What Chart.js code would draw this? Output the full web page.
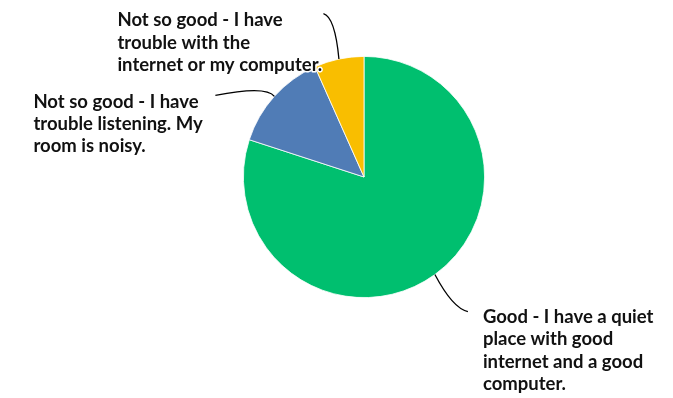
<!DOCTYPE html>
<html>
<head>
<meta charset="utf-8">
<script src="https://cdn.jsdelivr.net/npm/chart.js@4/dist/chart.umd.min.js"></script>
<style>
html,body{margin:0;padding:0;background:#fff;}
canvas{display:block;}
</style>
</head>
<body>
<canvas id="c" width="673" height="398"></canvas>
<script>
const categories = [
  "Good - I have a quiet place with good internet and a good computer.",
  "Not so good - I have trouble listening. My room is noisy.",
  "Not so good - I have trouble with the internet or my computer."
];
const labelLines = [
  ["Good - I have a quiet", "place with good", "internet and a good", "computer."],
  ["Not so good - I have", "trouble listening. My", "room is noisy."],
  ["Not so good - I have", "trouble with the", "internet or my computer."]
];
const responses = [12, 2, 1];
const colors = ["#00BF6F", "#507CB6", "#F9BE00"];

// layout (style only), offsets relative to the arc's outer-edge midpoint:
// leader end, leader control point, first text baseline start
const leaderLayout = [
  {end:[33, 37], ctrl:[18, 34], text:[48, 48.4], lh:22.4},
  {end:[-59, -1], ctrl:[-8, -11], text:[-241, 11.3], lh:22.2},
  {end:[-15.5, -45.3], ctrl:[-4, -42], text:[-221.5, -32.6], lh:22.3}
];

const calloutPlugin = {
  id: 'callouts',
  afterDatasetsDraw(chart) {
    const ctx = chart.ctx;
    const meta = chart.getDatasetMeta(0);
    const pts = meta.data.map(arc => {
      const p = arc.getProps(['x','y','startAngle','endAngle','outerRadius'], true);
      const mid = (p.startAngle + p.endAngle) / 2;
      return [p.x + Math.cos(mid) * p.outerRadius, p.y + Math.sin(mid) * p.outerRadius];
    });
    ctx.save();
    pts.forEach(([sx, sy], i) => {
      const L = leaderLayout[i];
      ctx.beginPath();
      ctx.moveTo(sx, sy);
      ctx.quadraticCurveTo(sx + L.ctrl[0], sy + L.ctrl[1], sx + L.end[0], sy + L.end[1]);
      ctx.strokeStyle = '#000';
      ctx.lineWidth = 1.3;
      ctx.stroke();
    });
    pts.forEach(([sx, sy], i) => {
      const L = leaderLayout[i];
      const tx = sx + L.text[0], ty = sy + L.text[1];
      ctx.font = 'bold 18.5px Lato, "Open Sans", sans-serif';
      ctx.textAlign = 'left';
      ctx.textBaseline = 'alphabetic';
      ctx.lineJoin = 'round';
      labelLines[i].forEach((line, k) => {
        ctx.strokeStyle = '#fff';
        ctx.lineWidth = 3;
        ctx.strokeText(line, tx, ty + k * L.lh);
        ctx.fillStyle = '#111111';
        ctx.fillText(line, tx, ty + k * L.lh);
      });
    });
    ctx.restore();
  }
};

new Chart(document.getElementById('c'), {
  type: 'pie',
  data: {
    labels: categories,
    datasets: [{
      data: responses,
      backgroundColor: colors,
      borderColor: '#ffffff',
      borderWidth: 0.8
    }]
  },
  options: {
    responsive: false,
    animation: false,
    layout: {padding: {left: 243, right: 188, top: 56, bottom: 100}},
    plugins: {
      legend: {display: false},
      tooltip: {enabled: false}
    }
  },
  plugins: [calloutPlugin]
});
</script>
</body>
</html>
